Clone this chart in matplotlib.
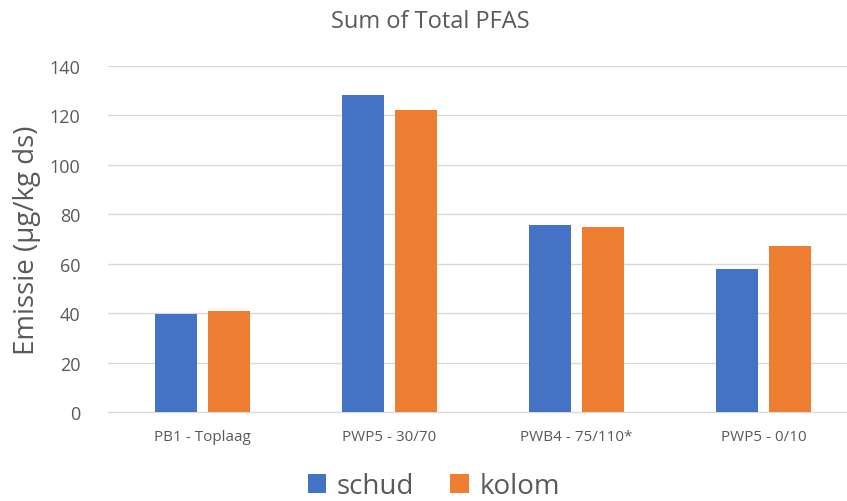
import matplotlib
matplotlib.use("Agg")
import matplotlib.pyplot as plt
import numpy as np

categories = ["PB1 - Toplaag", "PWP5 - 30/70", "PWB4 - 75/110*", "PWP5 - 0/10"]
schud = [39.7, 128.3, 75.5, 57.7]
kolom = [40.8, 122.1, 74.8, 67.0]
yticks = [0, 20, 40, 60, 80, 100, 120, 140]

plt.rcParams['font.family'] = ['Open Sans', 'DejaVu Sans']
fig = plt.figure(figsize=(8.47, 5.02), dpi=100)
ax = fig.add_axes([0.128, 0.177, 0.8845, 0.69])

x = np.arange(len(categories))
w = 0.224
off = 0.1415
ax.bar(x - off, schud, w, color="#4472C4", label="schud", zorder=3)
ax.bar(x + off, kolom, w, color="#ED7D31", label="kolom", zorder=3)

ax.set_xlim(-0.5, len(categories) - 0.5)
ax.set_ylim(0, 140)
ax.set_yticks(yticks)
ax.yaxis.grid(True, color="#D9D9D9", linewidth=1, zorder=0)
for s in ["top", "right", "left"]:
    ax.spines[s].set_visible(False)
ax.spines["bottom"].set_color("#D9D9D9")
ax.tick_params(axis="both", length=0, colors="#595959")
ax.tick_params(axis="y", labelsize=13, pad=20)
ax.tick_params(axis="x", labelsize=11, pad=12)
ax.set_xticks(x)
ax.set_xticklabels(categories)
ax.set_ylabel("Emissie (µg/kg ds)", fontsize=20, color="#595959", labelpad=6)
fig.text(430 / 847, 1 - 22 / 502, "Sum of Total PFAS", fontsize=17, color="#595959",
         ha="center", va="center")

fig.legend(loc="center", bbox_to_anchor=(434 / 847, 1 - 487 / 502), ncol=2, frameon=False,
           fontsize=20, labelcolor="#595959", handlelength=0.65, handleheight=0.65,
           handletextpad=0.4, columnspacing=1.3, borderpad=0)

fig.savefig("out.png", dpi=100)
